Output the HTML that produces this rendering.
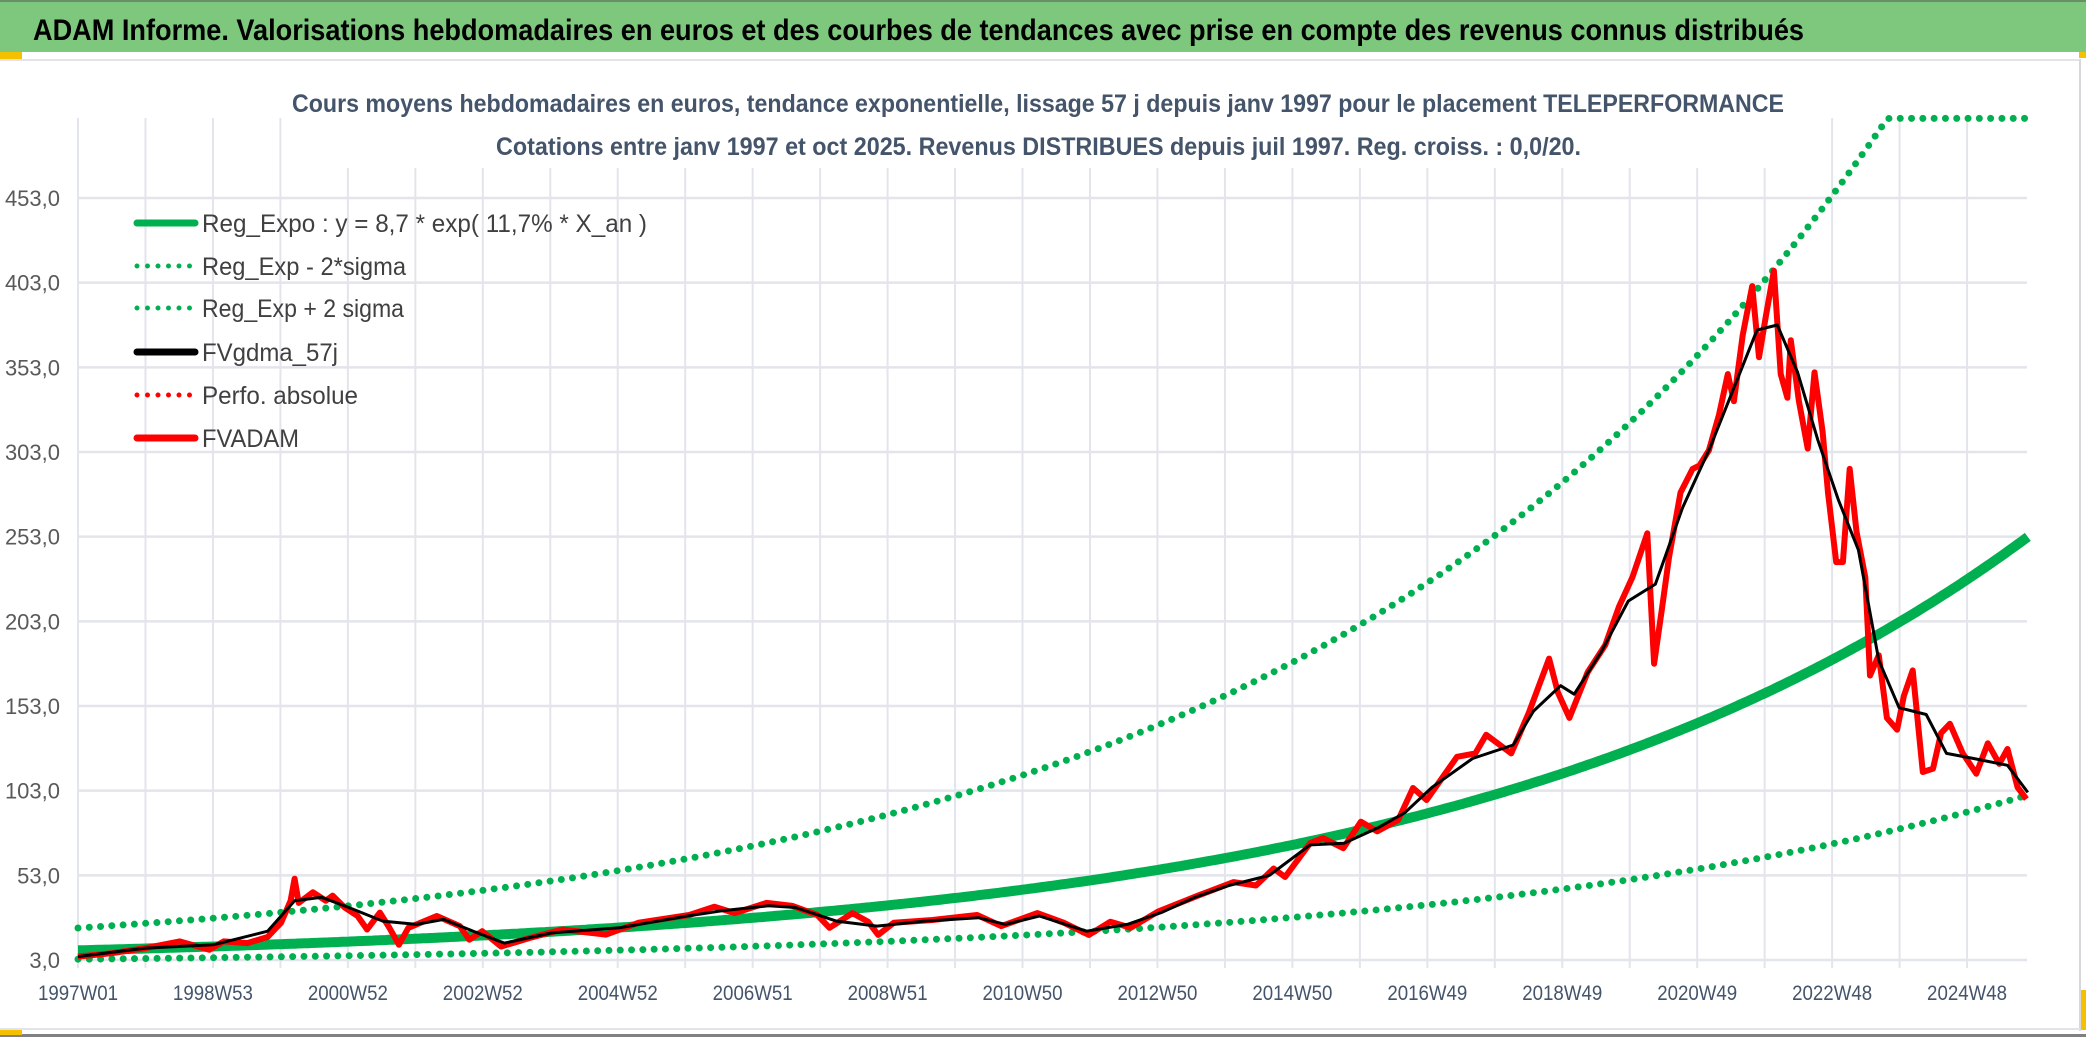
<!DOCTYPE html>
<html><head><meta charset="utf-8"><style>
html,body{margin:0;padding:0;background:#fff;}
svg{display:block;font-family:"Liberation Sans",sans-serif;}
</style></head><body>
<svg id="chart" width="2086" height="1037" viewBox="0 0 2086 1037" xmlns="http://www.w3.org/2000/svg">
<rect x="0" y="0" width="2086" height="1037" fill="#ffffff"/>
<rect x="0" y="0" width="2086" height="52" fill="#7dc87c"/>
<rect x="0" y="0" width="2086" height="2" fill="#6a8f68"/>
<text x="33" y="40" font-size="30" font-weight="bold" fill="#000" textLength="1771" lengthAdjust="spacingAndGlyphs">ADAM Informe. Valorisations hebdomadaires en euros et des courbes de tendances avec prise en compte des revenus connus distribués</text>
<rect x="0" y="52" width="22" height="7" fill="#f5c000"/>
<rect x="0" y="59" width="2080" height="2" fill="#e4e4e8"/>
<rect x="2079" y="59" width="2" height="972" fill="#d8d8dc"/>
<rect x="2079" y="52" width="7" height="6" fill="#f5c000"/>
<rect x="2081" y="990" width="5" height="40" fill="#f5c000"/>
<rect x="0" y="1028" width="2080" height="2" fill="#e4e4e8"/>
<rect x="0" y="1034" width="2086" height="3" fill="#808080"/>
<rect x="0" y="1030" width="22" height="5" fill="#f5c000"/>
<g id="grid"></g>
<g id="series"></g>
<rect x="285" y="84" width="1510" height="84" fill="#fff"/>
<text x="292" y="112" font-size="25" font-weight="bold" fill="#44546a" textLength="1492" lengthAdjust="spacingAndGlyphs">Cours moyens hebdomadaires en euros, tendance exponentielle, lissage 57 j depuis janv 1997 pour le placement TELEPERFORMANCE</text>
<text x="496" y="155" font-size="25" font-weight="bold" fill="#44546a" textLength="1085" lengthAdjust="spacingAndGlyphs">Cotations entre janv 1997 et oct 2025. Revenus DISTRIBUES depuis juil 1997. Reg. croiss. : 0,0/20.</text>
<g id="axes"></g>
<g id="legend"></g>
</svg>
<script>
var yTicks = [3, 53, 103, 153, 203, 253, 303, 353, 403, 453];
var xLabels = ["1997W01","1998W53","2000W52","2002W52","2004W52","2006W51","2008W51","2010W50","2012W50","2014W50","2016W49","2018W49","2020W49","2022W48","2024W48"];
var regA = 8.7;
var regB = 0.117;
var sigmaFactor = 2.52;
var yCap = 500;
var startYear = 1997;
var endYear = 2025.8;
var priceYears = [1997.0,1997.5,1998.0,1998.5,1998.94,1999.15,1999.5,1999.8,2000.0,2000.14,2000.2,2000.26,2000.47,2000.66,2000.76,2000.94,2001.13,2001.27,2001.46,2001.6,2001.74,2001.88,2002.3,2002.64,2002.78,2002.97,2003.25,2003.67,2004.15,2004.8,2005.28,2006.03,2006.4,2006.7,2007.17,2007.55,2007.92,2008.1,2008.44,2008.67,2008.82,2009.05,2009.62,2010.28,2010.64,2011.17,2011.56,2011.93,2012.25,2012.55,2012.95,2013.54,2014.07,2014.4,2014.66,2014.83,2015.2,2015.39,2015.69,2015.95,2016.19,2016.5,2016.72,2016.92,2017.37,2017.64,2017.8,2018.17,2018.43,2018.73,2018.86,2019.03,2019.3,2019.56,2019.76,2019.96,2020.18,2020.28,2020.4,2020.5,2020.67,2020.85,2020.95,2021.09,2021.24,2021.37,2021.46,2021.59,2021.73,2021.83,2021.93,2022.05,2022.15,2022.25,2022.3,2022.42,2022.55,2022.65,2022.77,2022.85,2022.97,2023.07,2023.17,2023.27,2023.4,2023.47,2023.6,2023.72,2023.87,2023.97,2024.1,2024.25,2024.4,2024.52,2024.65,2024.84,2025.04,2025.21,2025.38,2025.5,2025.65,2025.78];
var priceValues = [5,7,10,14,9,14,13,16.6,25,38,51,36.7,43,38,41,34,29,21,31,22,12,22,29,23,15,20,11,16,21,18,25,29.6,34.5,30.7,36.7,35,29.6,22,30.7,25.6,17.8,25,26.6,29.6,23,30.7,25,17.8,25.6,22,31.5,41,49,47,57,52,72,75,69,84.7,79,85.7,104.6,97.5,123,125,136,125,149,181,161,146,173,189,211.5,229,255,178,211.5,240.7,279,293,295,304,325,349,333,372,401,359,383,410,349,335,369,333,305,350,315,279,238,238,293,256,229,171,183,146,139,159,174,114,116,137,142.5,125,113,131,118.8,127.6,105,98];
var smoothYears = [1997,1998,1999,1999.8,2000.2,2000.6,2001.0,2001.5,2002.0,2002.4,2002.9,2003.3,2004,2005,2006,2006.5,2007.2,2007.6,2008.2,2008.8,2009.5,2010.3,2010.7,2011.2,2011.9,2012.5,2013,2013.5,2014,2014.6,2015.2,2015.7,2016.2,2016.6,2017,2017.6,2018.2,2018.5,2018.9,2019.1,2019.5,2019.9,2020.3,2020.7,2021.1,2021.5,2021.8,2022.1,2022.4,2022.7,2023,2023.3,2023.6,2023.9,2024.3,2024.6,2025,2025.5,2025.8];
var smoothValues = [5,10,12,20,38,40,34,26,24,27,19,13,19,22,29,32,35,34,26,23,26,28,24,29,20,24,31,40,47,53,71,72,81,90,105,122,130,150,165,160,185,215,225,270,305,345,375,378,350,310,275,245,180,152,148,125,122,118,102];

var NS = "http://www.w3.org/2000/svg";
var X0 = 78, X1 = 2027, YB = 960, YT = 118;
var pxPerYear = 67.7, pxPerUnit = 1.6933;
var yMin = 3;
function xScale(t){ return X0 + (t - startYear) * pxPerYear; }
function yScale(v){ return YB - (v - yMin) * pxPerUnit; }
function mk(tag, attrs, parent){ var e = document.createElementNS(NS, tag); for (var k in attrs) e.setAttribute(k, attrs[k]); parent.appendChild(e); return e; }

var grid = document.getElementById('grid');
var axes = document.getElementById('axes');
var series = document.getElementById('series');
var legend = document.getElementById('legend');

// horizontal gridlines + y labels
yTicks.forEach(function(v){
  var y = yScale(v);
  var l = mk('line', {x1: X0, x2: X1, y1: y, y2: y, stroke: '#e3e5ec', 'stroke-width': 2.5}, grid);
  
  
  var t = mk('text', {x: 60, y: y + 8, 'text-anchor': 'end', 'font-size': 22, fill: '#595959'}, axes);
  
  
  t.textContent = v.toFixed(1).replace('.', ',');
});
// vertical gridlines (every 52 weeks) + x labels (every 104 weeks)
var yrPerLabel = 104 / 52.18;
for (var k = 0; k <= 2 * (xLabels.length - 1) + 1; k++) {
  var xt = xScale(startYear + k * yrPerLabel / 2);
  if (xt > X1) break;
  var g = mk('line', {x1: xt, x2: xt, y1: YT, y2: YB + 8, stroke: '#e3e5ec', 'stroke-width': 2}, grid);
  
  
}
xLabels.forEach(function(s, i){
  var xt = xScale(startYear + i * yrPerLabel);
  var t = mk('text', {x: xt, y: 1000, 'text-anchor': 'middle', 'font-size': 21, fill: '#44546a', textLength: 80, lengthAdjust: 'spacingAndGlyphs'}, axes);
  
  
  t.textContent = s;
});

// regression curves
function regPts(f){
  var pts = [];
  for (var t = startYear; t <= endYear + 0.001; t += 0.05) {
    var v = Math.min(regA * Math.exp(regB * (t - startYear)) * f, yCap);
    pts.push(xScale(t).toFixed(1) + ',' + yScale(v).toFixed(1));
  }
  return pts.join(' ');
}
var lo = mk('polyline', {points: regPts(1 / sigmaFactor), fill: 'none', stroke: '#00b050', 'stroke-width': 7, 'stroke-linecap': 'round', 'stroke-dasharray': '0 11.3'}, series);


var hi = mk('polyline', {points: regPts(sigmaFactor), fill: 'none', stroke: '#00b050', 'stroke-width': 7, 'stroke-linecap': 'round', 'stroke-dasharray': '0 11.3'}, series);


var reg = mk('polyline', {points: regPts(1), fill: 'none', stroke: '#00b050', 'stroke-width': 10}, series);



function seriesPts(xs, vs){ return xs.map(function(t, i){ return xScale(t).toFixed(1) + ',' + yScale(vs[i]).toFixed(1); }).join(' '); }
var red = mk('polyline', {points: seriesPts(priceYears, priceValues), fill: 'none', stroke: '#ff0000', 'stroke-width': 6, 'stroke-linejoin': 'round'}, series);


var blk = mk('polyline', {points: seriesPts(smoothYears, smoothValues), fill: 'none', stroke: '#000000', 'stroke-width': 3, 'stroke-linejoin': 'round'}, series);



// legend
var legItems = [
  ["Reg_Expo : y = 8,7 * exp( 11,7% *  X_an )", '#00b050', 'solid', 445],
  ["Reg_Exp - 2*sigma", '#00b050', 'dot', 204],
  ["Reg_Exp + 2 sigma", '#00b050', 'dot', 202],
  ["FVgdma_57j", '#000000', 'solid', 136],
  ["Perfo. absolue", '#ff0000', 'dot', 156],
  ["FVADAM", '#ff0000', 'solid', 97]
];
var legY = [223, 266, 308, 352, 395, 438];
legItems.forEach(function(it, i){
  var y = legY[i];
  var a = {x1: 137, x2: 195, y1: y, y2: y, stroke: it[1]};
  if (it[2] === 'dot') { a['stroke-width'] = 5; a['stroke-linecap'] = 'round'; a['stroke-dasharray'] = '0 10.5'; }
  else { a['stroke-width'] = 7; a['stroke-linecap'] = 'round'; }
  var ln = mk('line', a, legend);
  
  
  var tx = mk('text', {x: 202, y: y + 9, 'font-size': 25, fill: '#404040', textLength: it[3], lengthAdjust: 'spacingAndGlyphs'}, legend);
  
  
  tx.textContent = it[0];
});
</script>
</body></html>
